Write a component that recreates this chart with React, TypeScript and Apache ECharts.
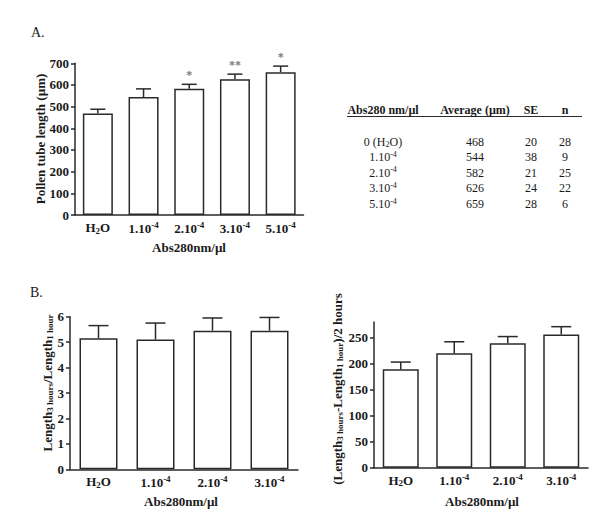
import React, { useEffect, useRef } from "react";
import * as echarts from "echarts";

const catA = ["H2O", "1.10-4", "2.10-4", "3.10-4", "5.10-4"];
const meanA = [468, 544, 582, 626, 659];
const seA = [20, 38, 21, 24, 28];
const nA = [28, 9, 25, 22, 6];
const sigA = ["", "", "*", "**", "*"];

const catB = ["H2O", "1.10-4", "2.10-4", "3.10-4"];
const ratioB = [5.15, 5.1, 5.45, 5.45];
const ratioSeB = [0.5, 0.65, 0.5, 0.52];
const rateB = [189, 220, 239, 256];
const rateSeB = [14, 22, 13, 15];
const tickRate = [0, 50, 100, 150, 200, 250];

const tableHeader = ["Abs280 nm/\u00b5l", "Average (\u00b5m)", "SE", "n"];
const tableRowLabels = ["0 (H2O)", "1.10-4", "2.10-4", "3.10-4", "5.10-4"];

const SERIF = "'Liberation Serif', 'Times New Roman', serif";
const INK = "#1a1a1a";
const LINE = "#2a2a2a";

function richCat(v: string, prefix: string) {
  if (v === "H2O") return `{${prefix}b|H}{${prefix}sub|2}{${prefix}b|O}`;
  if (v === "0 (H2O)") return `{${prefix}b|0 (H}{${prefix}sub|2}{${prefix}b|O)}`;
  const m = v.match(/^(.*)(-\d+)$/);
  if (m) return `{${prefix}b|${m[1]}}{${prefix}sup|${m[2]}}`;
  return `{${prefix}b|${v}}`;
}

function richStyles(prefix: string, size: number, weight: string) {
  const small = Math.round(size * 0.68);
  return {
    [prefix + "b"]: { fontFamily: SERIF, fontSize: size, fontWeight: weight, color: INK },
    [prefix + "sub"]: { fontFamily: SERIF, fontSize: small, fontWeight: weight, color: INK, padding: [Math.round(size * 0.45), 0, 0, 0] },
    [prefix + "sup"]: { fontFamily: SERIF, fontSize: small, fontWeight: weight, color: INK, padding: [0, 0, Math.round(size * 0.5), 0] },
  };
}

const axisRich = richStyles("", 13, "bold");

function catAxis(gridIndex: number, cats: string[]) {
  return {
    type: "category",
    gridIndex,
    data: cats,
    z: 5,
    axisLine: { lineStyle: { color: LINE, width: 1.5 } },
    axisTick: { alignWithLabel: true, length: 4, lineStyle: { color: LINE, width: 1.5 } },
    axisLabel: {
      margin: 5,
      interval: 0,
      hideOverlap: false,
      formatter: (v: string) => richCat(v, ""),
      rich: axisRich,
    },
    splitLine: { show: false },
  };
}

function valAxis(gridIndex: number, opts: any) {
  const { axisLabel, axisTick, ...rest } = opts;
  return {
    type: "value",
    gridIndex,
    z: 5,
    axisLine: { show: true, lineStyle: { color: LINE, width: 1.5 } },
    splitLine: { show: false },
    ...rest,
    axisLabel: { margin: 6, fontFamily: SERIF, fontSize: 13, fontWeight: "bold", color: INK, ...(axisLabel || {}) },
    axisTick: { show: true, length: 4, lineStyle: { color: LINE, width: 1.5 }, ...(axisTick || {}) },
  };
}

function barSeries(idx: number, values: number[], width: number) {
  return {
    type: "bar",
    xAxisIndex: idx,
    yAxisIndex: idx,
    data: values,
    barWidth: width,
    itemStyle: { color: "#ffffff", borderColor: LINE, borderWidth: 1.5 },
    z: 2,
  };
}

function errSeries(idx: number, values: number[], ses: number[], capHalf: number) {
  return {
    type: "custom",
    xAxisIndex: idx,
    yAxisIndex: idx,
    z: 3,
    data: values.map((v, i) => [i, v, ses[i]]),
    encode: { x: 0, y: 1 },
    renderItem: (params: any, api: any) => {
      const i = api.value(0);
      const m = api.value(1);
      const s = api.value(2);
      const p0 = api.coord([i, m]);
      const p1 = api.coord([i, m + s]);
      const st = { stroke: LINE, lineWidth: 1.5 };
      return {
        type: "group",
        children: [
          { type: "line", shape: { x1: p0[0], y1: p0[1], x2: p1[0], y2: p1[1] }, style: st },
          { type: "line", shape: { x1: p1[0] - capHalf, y1: p1[1], x2: p1[0] + capHalf, y2: p1[1] }, style: st },
        ],
      };
    },
  };
}

function sigSeries(idx: number, values: number[], ses: number[], sig: string[]) {
  return {
    type: "scatter",
    xAxisIndex: idx,
    yAxisIndex: idx,
    z: 4,
    symbolSize: 0,
    itemStyle: { color: "#444444" },
    data: values.map((v, i) => v + ses[i]),
    label: {
      show: true,
      position: "top",
      distance: 3,
      fontFamily: SERIF,
      fontSize: 12,
      fontWeight: "bold",
      color: "#555555",
      formatter: (p: any) => sig[p.dataIndex],
    },
  };
}

function gText(x: number, y: number, text: string, size: number, weight: string, align = "center", rich?: any, rotation = 0) {
  return {
    type: "text",
    x,
    y,
    rotation,
    style: {
      text,
      fontFamily: SERIF,
      fontSize: size,
      fontWeight: weight,
      fill: INK,
      align,
      verticalAlign: "middle",
      textAlign: align,
      textVerticalAlign: "middle",
      ...(rich ? { rich } : {}),
    },
  };
}

export default function App() {
  const ref = useRef<HTMLDivElement>(null);
  useEffect(() => {
    if (!ref.current) return;
    const chart = echarts.init(ref.current, undefined, { renderer: "svg" });

    const tableRich = richStyles("t", 12, "normal");
    const titleRich = richStyles("y", 13, "bold");
    const rowYs = [141.7, 157, 172.7, 188.3, 204];
    const colX = [383, 475, 531, 565];

    const graphics: any[] = [
      gText(31, 32.5, "A.", 14, "normal", "left"),
      gText(30, 292.5, "B.", 14, "normal", "left"),
      gText(40, 139, "Pollen tube length (\u00b5m)", 13, "bold", "center", undefined, Math.PI / 2),
      gText(189, 247, "Abs280nm/\u00b5l", 13, "bold"),
      gText(47, 383, "{yb|Length}{ysub|3 hours}{yb|/Length}{ysub|1 hour}", 13, "bold", "center", titleRich, Math.PI / 2),
      gText(181, 501, "Abs280nm/\u00b5l", 13, "bold"),
      gText(337, 389, "{yb|(Length}{ysub|3 hours}{yb|-Length}{ysub|1 hour}{yb|)/2 hours}", 13, "bold", "center", titleRich, Math.PI / 2),
      gText(482, 501, "Abs280nm/\u00b5l", 13, "bold"),
      { type: "line", shape: { x1: 347, y1: 116.5, x2: 582, y2: 116.5 }, style: { stroke: LINE, lineWidth: 1.2 } },
    ];
    tableHeader.forEach((h, j) => graphics.push(gText(colX[j], 109.5, h, 12, "bold")));
    tableRowLabels.forEach((lab, i) => {
      graphics.push(gText(colX[0], rowYs[i], richCat(lab, "t"), 12, "normal", "center", tableRich));
      graphics.push(gText(colX[1], rowYs[i], String(meanA[i]), 12, "normal"));
      graphics.push(gText(colX[2], rowYs[i], String(seA[i]), 12, "normal"));
      graphics.push(gText(colX[3], rowYs[i], String(nA[i]), 12, "normal"));
    });

    chart.setOption({
      animation: false,
      backgroundColor: "#ffffff",
      grid: [
        { left: 75, top: 63.3, width: 228.5, height: 151.7 },
        { left: 70, top: 316.7, width: 228, height: 152.6 },
        { left: 374, top: 322, width: 214, height: 145.7 },
      ],
      xAxis: [catAxis(0, catA), catAxis(1, catB), catAxis(2, catB)],
      yAxis: [
        valAxis(0, { min: 0, max: 700, interval: 100 }),
        valAxis(1, { min: 0, max: 6, interval: 1 }),
        valAxis(2, {
          min: 0,
          max: 280,
          axisLabel: { customValues: tickRate },
          axisTick: { customValues: tickRate },
        }),
      ],
      series: [
        barSeries(0, meanA, 30),
        errSeries(0, meanA, seA, 7.5),
        sigSeries(0, meanA, seA, sigA),
        barSeries(1, ratioB, 38),
        errSeries(1, ratioB, ratioSeB, 10),
        barSeries(2, rateB, 36),
        errSeries(2, rateB, rateSeB, 10),
      ],
      graphic: graphics,
    });
    return () => chart.dispose();
  }, []);
  return <div ref={ref} style={{ position: "fixed", left: 0, top: 0, width: 600, height: 518, background: "#fff" }} />;
}
